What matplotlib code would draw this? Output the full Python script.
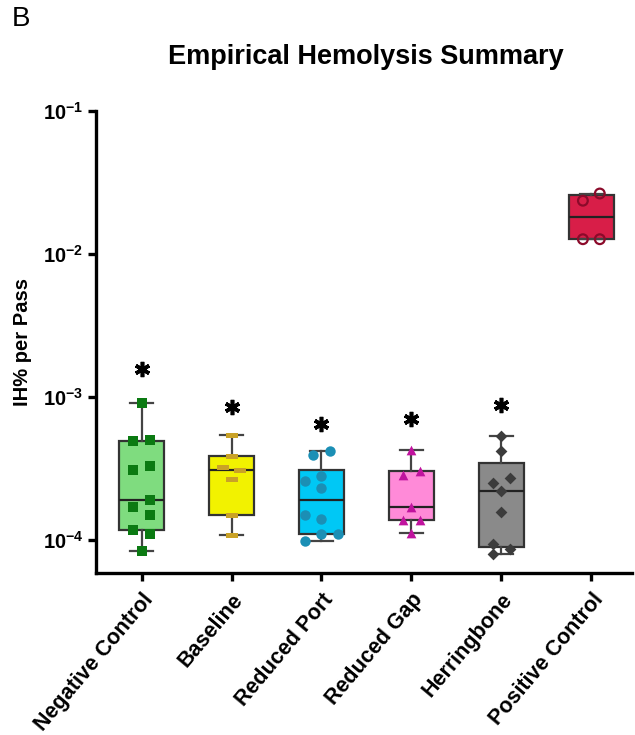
import numpy as np
import matplotlib
matplotlib.use("Agg")
import matplotlib.pyplot as plt
from matplotlib.path import Path

plt.rcParams['font.family'] = ['Liberation Sans', 'DejaVu Sans']
plt.rcParams['mathtext.fontset'] = 'custom'
plt.rcParams['mathtext.rm'] = 'Liberation Sans'
plt.rcParams['mathtext.bf'] = 'Liberation Sans:bold'

# ---------------- data ----------------
categories = ["Negative Control", "Baseline", "Reduced Port",
              "Reduced Gap", "Herringbone", "Positive Control"]

negative_control = [9.1e-4, 5.0e-4, 4.9e-4, 3.3e-4, 3.1e-4, 1.91e-4,
                    1.7e-4, 1.5e-4, 1.18e-4, 1.1e-4, 8.4e-5]
baseline = [5.4e-4, 3.9e-4, 3.27e-4, 3.1e-4, 2.67e-4, 1.5e-4, 1.09e-4]
reduced_port = [4.17e-4, 3.95e-4, 2.8e-4, 2.6e-4, 2.3e-4, 1.5e-4,
                1.4e-4, 1.1e-4, 1.1e-4, 9.9e-5]
reduced_gap = [4.28e-4, 3.05e-4, 2.86e-4, 1.72e-4, 1.39e-4, 1.39e-4, 1.13e-4]
herringbone = [5.37e-4, 4.2e-4, 2.73e-4, 2.53e-4, 2.2e-4, 1.58e-4,
               9.4e-5, 8.65e-5, 7.95e-5]
positive_control = [2.65e-2, 2.36e-2, 1.27e-2, 1.27e-2]

# significance asterisk heights
asterisk_y = [1.57e-3, 8.5e-4, 6.47e-4, 7.0e-4, 8.8e-4, None]

# ---------------- layout / style ----------------
groups = [negative_control, baseline, reduced_port, reduced_gap,
          herringbone, positive_control]
jitter_slots = [
    [0, 1, -1, 1, -1, 1, -1, 1, -1, 1, 0],
    [0, 0, -1, 1, 0, 0, 0],
    [1, -1, 0, -2, 0, -2, 0, 0, 2, -2],
    [0, 1, -1, 0, -1, 1, 0],
    [0, 0, 1, -1, 0, 0, -1, 1, -1],
    [1, -1, -1, 1],
]
jit_unit = 0.094

box_colors = ["#7fdc7f", "#f2f200", "#00c8f5", "#ff8ad8", "#8a8a8a", "#d81e48"]
pt_colors = ["#0b7a12", "#c9a227", "#1b8fb5", "#c0139e", "#3c3c3c", "#8b0a2a"]
dash = Path([(-1, -0.45), (1, -0.45), (1, 0.45), (-1, 0.45), (-1, -0.45)],
            closed=True)
markers = ["s", dash, "o", "^", "D", "o"]
msizes = [6.5, 8, 7.5, 7, 6, 7]

fig = plt.figure(figsize=(6.35, 7.35), dpi=100)
ax = fig.add_axes([0.151, 0.2204, 0.844, 0.6286])

pos = np.arange(len(categories))

stats = []
for i, g in enumerate(groups):
    a = np.asarray(g)
    q1, med, q3 = np.percentile(a, [25, 50, 75], method="weibull")
    stats.append(dict(med=med, q1=q1, q3=q3, whislo=a.min(),
                      whishi=a.max(), fliers=[], label=categories[i]))

bp = ax.bxp(stats, positions=pos, widths=0.5, patch_artist=True,
            showfliers=False, capwidths=0.26,
            boxprops=dict(linewidth=1.6, edgecolor="#333333"),
            medianprops=dict(color="#222222", linewidth=1.6),
            whiskerprops=dict(color="#444444", linewidth=1.6),
            capprops=dict(color="#444444", linewidth=1.6), zorder=2)
for patch, c in zip(bp['boxes'], box_colors):
    patch.set_facecolor(c)

for i, g in enumerate(groups):
    x = pos[i] + jit_unit * np.asarray(jitter_slots[i])
    if i == 5:
        ax.scatter(x, g, s=msizes[i] ** 2, marker=markers[i],
                   facecolors="none", edgecolors=pt_colors[i],
                   linewidths=1.6, zorder=3)
    else:
        ax.scatter(x, g, s=msizes[i] ** 2, marker=markers[i],
                   color=pt_colors[i], linewidths=0, zorder=3)

for i, yv in enumerate(asterisk_y):
    if yv is not None:
        ax.plot(pos[i], yv, marker=(6, 2, 0), markersize=11,
                markeredgewidth=2.6, color="black", zorder=4)

ax.set_yscale("log")
ax.set_ylim(5.9e-5, 1e-1)
ax.set_xlim(-0.508, 5.45)
ax.set_yticks([1e-4, 1e-3, 1e-2, 1e-1])
ax.set_yticklabels([r"$\mathbf{10^{-4}}$", r"$\mathbf{10^{-3}}$",
                    r"$\mathbf{10^{-2}}$", r"$\mathbf{10^{-1}}$"],
                   fontsize=14.5)
ax.yaxis.set_minor_locator(matplotlib.ticker.NullLocator())
ax.set_xticks(pos)
ax.set_xticklabels(categories, rotation=50, ha="right", va="top",
                   rotation_mode="anchor", fontsize=15.5, fontweight="bold")

for side in ["top", "right"]:
    ax.spines[side].set_visible(False)
for side in ["left", "bottom"]:
    ax.spines[side].set_linewidth(2.4)
ax.tick_params(axis="both", width=2.4, length=6, color="black")
ax.tick_params(axis="x", pad=6)
ax.tick_params(axis="y", pad=3)

ax.set_ylabel("IH% per Pass", fontsize=14.5, fontweight="bold", labelpad=8)
fig.text(0.576, 0.922, "Empirical Hemolysis Summary", ha="center",
         va="center", fontsize=19.5, fontweight="bold")
fig.text(0.018, 0.974, "B", ha="left", va="center", fontsize=20)

fig.savefig("out.png", dpi=100)
